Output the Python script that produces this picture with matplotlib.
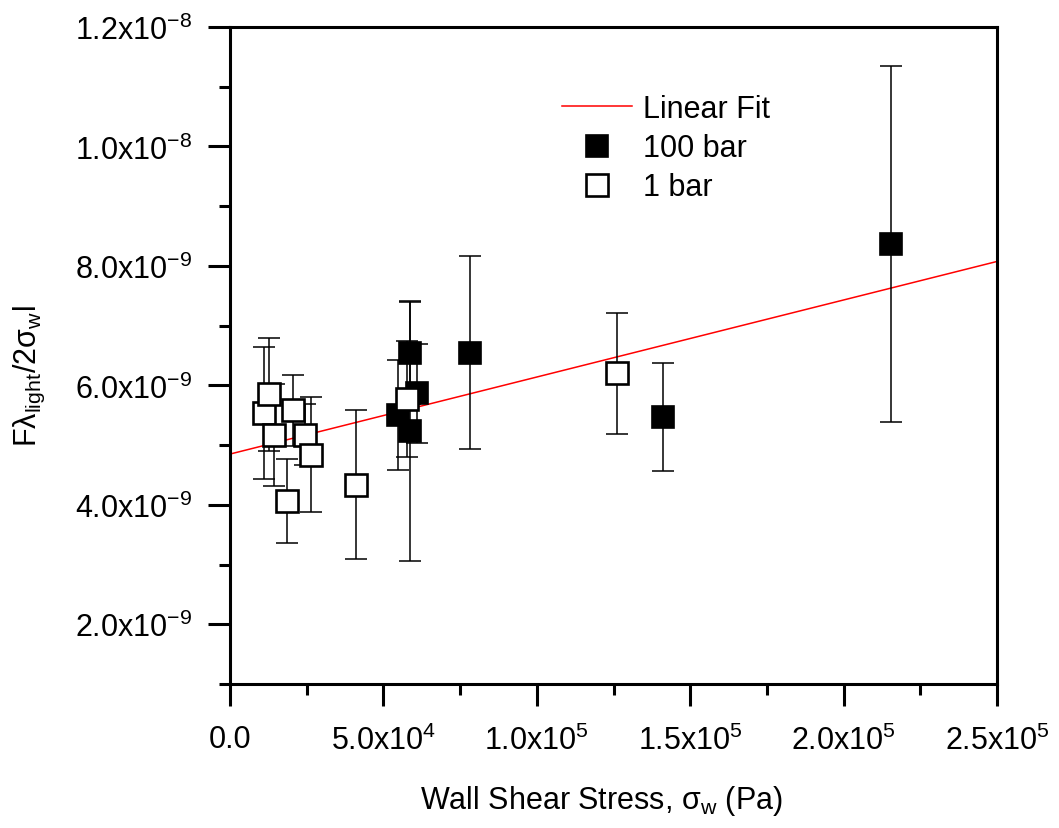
import numpy as np
import matplotlib
matplotlib.use("Agg")
import matplotlib.pyplot as plt
from matplotlib.ticker import MultipleLocator, FuncFormatter

plt.rcParams['font.family'] = ['Liberation Sans', 'DejaVu Sans']
plt.rcParams['mathtext.fontset'] = 'custom'
plt.rcParams['mathtext.rm'] = 'Liberation Sans'
plt.rcParams['mathtext.it'] = 'Liberation Sans:italic'

# Données
# 100 bar (carrés pleins)
x_100 = np.array([5.47e4, 5.86e4, 5.86e4, 6.11e4, 7.81e4, 1.41e5, 2.155e5])
y_100 = np.array([5.50e-9, 6.55e-9, 5.23e-9, 5.87e-9, 6.55e-9, 5.47e-9, 8.37e-9])
err_100 = np.array([0.92e-9, 0.86e-9, 2.17e-9, 0.83e-9, 1.62e-9, 0.90e-9, 2.98e-9])

# 1 bar (carrés vides)
x_1 = np.array([1.11e4, 1.28e4, 1.44e4, 1.87e4, 2.04e4, 2.44e4, 2.63e4, 4.12e4, 5.76e4, 1.26e5])
y_1 = np.array([5.54e-9, 5.85e-9, 5.17e-9, 4.06e-9, 5.58e-9, 5.17e-9, 4.84e-9, 4.34e-9, 5.77e-9, 6.20e-9])
err_1 = np.array([1.10e-9, 0.95e-9, 0.85e-9, 0.70e-9, 0.60e-9, 0.51e-9, 0.96e-9, 1.24e-9, 0.97e-9, 1.02e-9])

# droite d'ajustement
fit_intercept = 4.85e-9
fit_slope = 1.29e-14
x_fit = np.array([0.0, 2.5e5])


def sci(v, pos=None):
    if v == 0:
        return "0.0"
    m, e = f"{v:.1e}".split("e")
    return r"$\mathregular{" + m + "x10^{" + str(int(e)) + "}}$"


fig = plt.figure(figsize=(10.59, 8.29), dpi=100)
ax = fig.add_axes([0.2172, 0.1737, 0.7243, 0.7925])

ax.plot(x_fit, fit_intercept + fit_slope * x_fit, color='red', lw=1.1, label='Linear Fit', zorder=2)

ax.errorbar(x_100, y_100, yerr=err_100, fmt='none', ecolor='black', elinewidth=1.1,
            capsize=7.6, capthick=1.1, zorder=3)
ax.plot(x_100, y_100, 's', ms=16.5, mfc='black', mec='black', mew=1.2, label='100 bar', zorder=4)

ax.errorbar(x_1, y_1, yerr=err_1, fmt='none', ecolor='black', elinewidth=1.1,
            capsize=7.6, capthick=1.1, zorder=5)
ax.plot(x_1, y_1, 's', ms=15.8, mfc='white', mec='black', mew=1.9, label='1 bar', zorder=6)

ax.set_xlim(0, 2.5e5)
ax.set_ylim(1e-9, 1.2e-8)
ax.xaxis.set_major_locator(MultipleLocator(5e4))
ax.xaxis.set_minor_locator(MultipleLocator(2.5e4))
ax.yaxis.set_major_locator(MultipleLocator(2e-9))
ax.yaxis.set_minor_locator(MultipleLocator(1e-9))
ax.xaxis.set_major_formatter(FuncFormatter(sci))
ax.yaxis.set_major_formatter(FuncFormatter(sci))

for s in ax.spines.values():
    s.set_linewidth(2.2)
ax.tick_params(which='major', direction='out', length=16, width=2.2, labelsize=22, pad=11)
ax.tick_params(axis='x', which='major', pad=13)
ax.tick_params(which='minor', direction='out', length=8, width=2.2)
ax.tick_params(top=False, right=False, which='both')

ax.set_xlabel(r"Wall Shear Stress, $\mathregular{σ_w}$ (Pa)", fontsize=22)
ax.set_ylabel(r"$\mathregular{Fλ_{light}/2σ_w l}$", fontsize=22)
ax.xaxis.set_label_coords(0.484, -0.15)
ax.yaxis.set_label_coords(-0.238, 0.47)

ax.legend(loc='upper left', bbox_to_anchor=(0.433, 0.898), frameon=False, fontsize=22,
          numpoints=1, handlelength=2.3, handletextpad=0.36, labelspacing=0.3,
          borderpad=0, borderaxespad=0)

fig.savefig("out.png", dpi=100)
